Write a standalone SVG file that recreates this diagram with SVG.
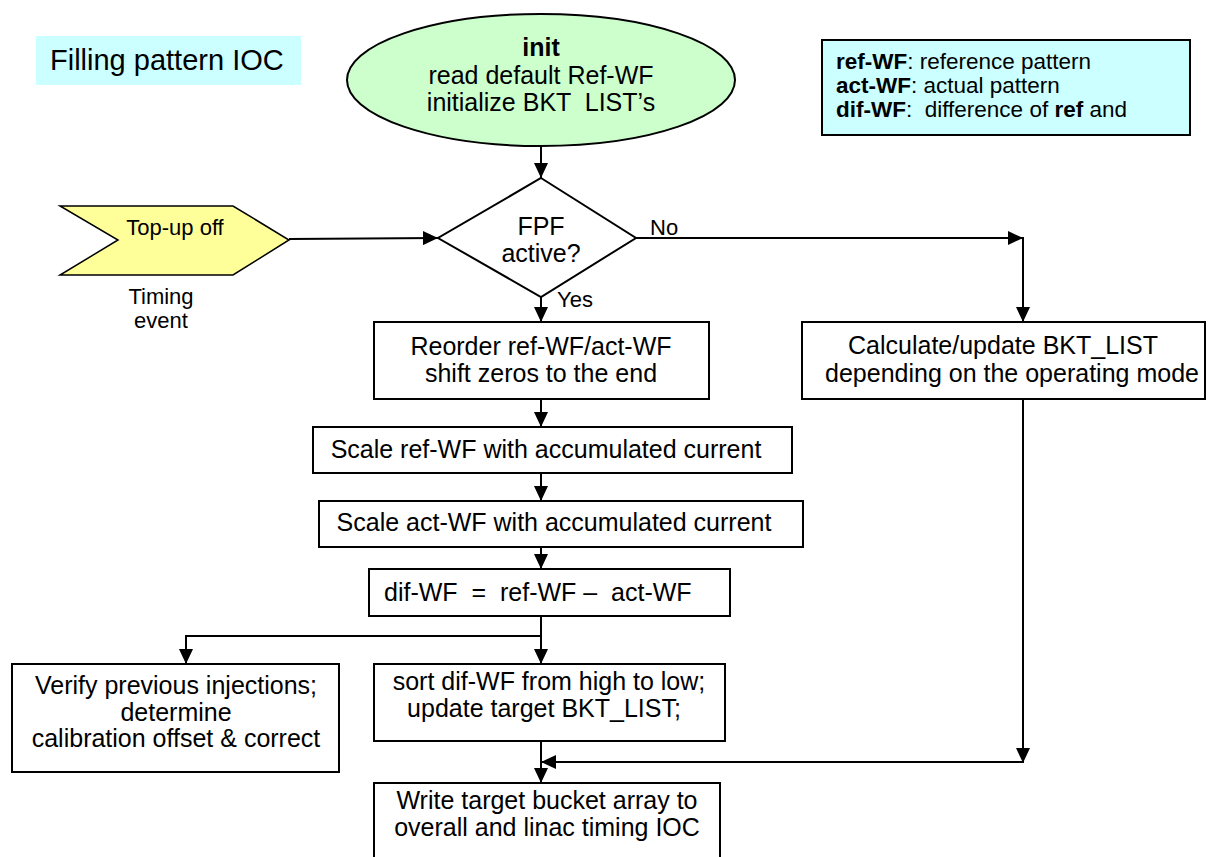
<svg xmlns="http://www.w3.org/2000/svg" width="1211" height="857" viewBox="0 0 1211 857">
<style>
text{font-family:"Liberation Sans",Arial,sans-serif;fill:#000;white-space:pre}
.t{font-size:25px;text-anchor:middle}
.s{font-size:22px;text-anchor:middle}
.lg{font-size:22.5px}
.b{font-weight:bold}
.box{fill:#fff;stroke:#000;stroke-width:2}
.ln{fill:none;stroke:#000;stroke-width:2}
</style>
<defs>
<marker id="ah" markerUnits="userSpaceOnUse" markerWidth="16" markerHeight="14" refX="15" refY="7" orient="auto">
<path d="M0,0 L15,7 L0,14 z" fill="#000"/>
</marker>
</defs>
<rect width="1211" height="857" fill="#fff"/>
<g id="title">
<rect x="36" y="36" width="265" height="49" fill="#ccffff"/>
<text x="50" y="70" style="font-size:29px">Filling pattern IOC</text>
</g>
<g id="legend">
<rect x="822" y="40" width="368" height="95" fill="#ccffff" stroke="#000" stroke-width="2"/>
<text class="lg" x="836" y="69" xml:space="preserve"><tspan class="b">ref-WF</tspan>: reference pattern</text>
<text class="lg" x="836" y="93" xml:space="preserve"><tspan class="b">act-WF</tspan>: actual pattern</text>
<text class="lg" x="836" y="117" xml:space="preserve"><tspan class="b">dif-WF</tspan>:  difference of <tspan class="b">ref</tspan> and</text>
</g>
<g id="init">
<ellipse cx="541" cy="80" rx="194" ry="66" fill="#ccffcc" stroke="#000" stroke-width="2"/>
<text class="t b" x="541" y="56">init</text>
<text class="t" x="541" y="84">read default Ref-WF</text>
<text class="t" x="541" y="111" xml:space="preserve">initialize BKT  LIST’s</text>
</g>
<g id="topup">
<polygon points="60,206 233,206 289,240 233,275 60,275 118,240" fill="#ffff99" stroke="#000" stroke-width="1.5"/>
<text class="s" x="175" y="235">Top-up off</text>
<text class="s" x="161" y="304">Timing</text>
<text class="s" x="161" y="328">event</text>
</g>
<g id="fpf">
<polygon points="541,178 636,238 541,297 438,238" fill="#fff" stroke="#000" stroke-width="2"/>
<text class="t" x="541" y="235">FPF</text>
<text class="t" x="541" y="262">active?</text>
</g>
<g id="reorder">
<rect class="box" x="374" y="322" width="335" height="77"/>
<text class="t" x="541" y="355">Reorder ref-WF/act-WF</text>
<text class="t" x="541" y="382">shift zeros to the end</text>
</g>
<g id="calc">
<rect class="box" x="802" y="322" width="403" height="77"/>
<text class="t" x="1003" y="354">Calculate/update BKT_LIST</text>
<text class="t" x="1012" y="382">depending on the operating mode</text>
</g>
<g id="scaleref">
<rect class="box" x="313" y="427" width="479" height="46"/>
<text class="t" x="546" y="458">Scale ref-WF with accumulated current</text>
</g>
<g id="scaleact">
<rect class="box" x="319" y="501" width="484" height="46"/>
<text class="t" x="554" y="531">Scale act-WF with accumulated current</text>
</g>
<g id="difwf">
<rect class="box" x="369" y="569" width="361" height="47"/>
<text x="384" y="601" style="font-size:25px" xml:space="preserve">dif-WF  =  ref-WF –  act-WF</text>
</g>
<g id="verify">
<rect class="box" x="12" y="664" width="327" height="108"/>
<text class="t" x="176" y="694">Verify previous injections;</text>
<text class="t" x="176" y="721">determine</text>
<text class="t" x="176" y="747">calibration offset &amp; correct</text>
</g>
<g id="sort">
<rect class="box" x="374" y="664" width="351" height="77"/>
<text class="t" x="549" y="690">sort dif-WF from high to low;</text>
<text class="t" x="544" y="717">update target BKT_LIST;</text>
</g>
<g id="write">
<rect class="box" x="374" y="783" width="346" height="80"/>
<text class="t" x="547" y="809">Write target bucket array to</text>
<text class="t" x="547" y="836">overall and linac timing IOC</text>
</g>
<g id="connectors">
<line class="ln" x1="541" y1="146" x2="541" y2="178" marker-end="url(#ah)"/>
<line class="ln" x1="289" y1="239" x2="438" y2="238" marker-end="url(#ah)"/>
<line class="ln" x1="636" y1="238" x2="1023" y2="238" marker-end="url(#ah)"/>
<line class="ln" x1="1023" y1="237" x2="1023" y2="322" marker-end="url(#ah)"/>
<text x="650" y="235" style="font-size:22px">No</text>
<line class="ln" x1="541" y1="297" x2="541" y2="322" marker-end="url(#ah)"/>
<text x="557" y="307" style="font-size:22px">Yes</text>
<line class="ln" x1="541" y1="399" x2="541" y2="427" marker-end="url(#ah)"/>
<line class="ln" x1="541" y1="473" x2="541" y2="501" marker-end="url(#ah)"/>
<line class="ln" x1="541" y1="547" x2="541" y2="569" marker-end="url(#ah)"/>
<line class="ln" x1="541" y1="616" x2="541" y2="664" marker-end="url(#ah)"/>
<polyline class="ln" points="541,636 186,636 186,664" marker-end="url(#ah)"/>
<line class="ln" x1="541" y1="741" x2="541" y2="783" marker-end="url(#ah)"/>
<line class="ln" x1="1023" y1="399" x2="1023" y2="763" marker-end="url(#ah)"/>
<line class="ln" x1="1023" y1="762" x2="541" y2="762" marker-end="url(#ah)"/>
</g>
</svg>
